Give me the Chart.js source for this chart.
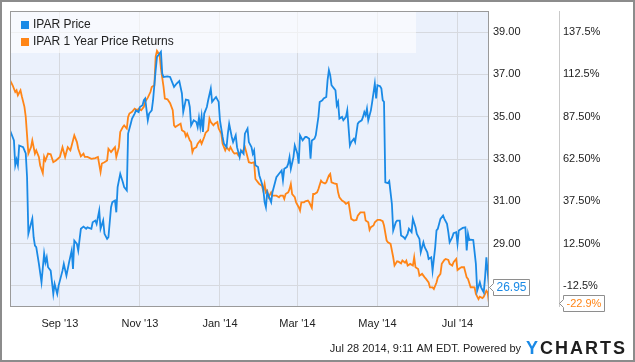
<!DOCTYPE html>
<html><head><meta charset="utf-8">
<script src="https://cdn.jsdelivr.net/npm/chart.js@4.4.1/dist/chart.umd.min.js"></script>
<style>html,body{margin:0;padding:0;background:#fff}canvas{display:block}</style>
</head><body>
<canvas id="c" width="635" height="362"></canvas>
<script>
// x values: days since 1 Sep 2013
const priceDays = [
 -38,-35,-34,-33,-32,-31,-28,-26,-25,-24,
 -22,-21,-20,-19,-18,-16,-14,-12,-11,-10,
 -9,-7,-5,-4,-2,-1,2,3,5,7,
 9,10,11,13,14,16,18,20,21,24,
 25,27,28,30,31,33,34,36,37,39,
 40,42,43,44,46,48,49,51,52,54,
 55,57,58,60,61,63,64,65,67,68,
 70,71,73,74,76,77,78,79,82,84,
 87,89,91,93,94,96,98,99,100,102,
 104,105,106,107,108,109,110,112,113,115,
 116,118,119,121,122,124,125,127,128,129,
 131,132,134,135,137,138,140,141,143,144,
 146,147,148,149,151,152,154,155,156,157,
 158,159,161,162,164,165,167,169,170,171,
 173,174,175,176,178,179,181,182,183,185,
 187,188,190,191,192,194,195,197,198,200,
 201,203,204,205,206,207,209,210,211,212,
 213,215,216,218,219,221,222,224,225,227,
 228,230,231,232,233,234,235,237,238,240,
 241,242,244,245,246,247,248,250,251,253,
 254,256,257,259,260,262,263,265,266,268,
 269,271,272,274,275,277,278,280,281,283,
 284,286,287,288,290,292,293,295,296,297,
 299,300,302,303,304,306,307,309,310,311,
 312,313,315,317,318,320,321,323,324,325,327
];
const priceValues = [
 34.36,33.88,32.70,32.97,32.70,33.64,33.56,33.26,32.14,29.47,
 29.95,30.18,29.30,28.90,28.83,28.05,27.17,28.53,28.11,28.35,
 27.88,27.72,26.62,27.09,26.62,27.00,27.72,28.04,27.48,28.11,
 28.67,27.80,29.14,28.98,28.67,29.70,29.80,29.70,29.77,29.70,
 30.01,30.09,29.93,30.56,29.70,30.09,29.46,29.22,29.30,30.72,
 30.96,31.04,30.48,31.67,32.30,31.90,31.67,31.51,34.20,34.67,
 34.91,35.15,35.30,35.22,35.46,35.54,35.78,35.86,34.83,35.15,
 35.30,35.78,37.20,37.83,37.99,38.07,37.04,36.88,36.91,36.88,
 36.41,36.57,36.69,36.10,35.22,35.81,35.78,35.46,34.59,34.83,
 34.75,34.51,34.96,34.51,35.02,34.28,35.15,35.46,35.78,36.33,
 35.70,35.86,35.93,35.70,34.83,34.04,33.73,33.56,34.20,34.67,
 34.04,33.80,34.12,33.56,33.09,33.41,33.25,34.20,34.44,33.80,
 33.56,33.25,33.41,32.70,32.62,32.22,31.83,31.59,30.96,30.72,
 31.43,31.27,30.96,31.43,31.90,32.14,32.30,32.46,31.99,32.54,
 32.62,32.78,33.09,32.54,33.09,33.64,33.25,32.78,34.12,33.88,
 34.04,34.04,33.96,33.01,33.88,33.96,34.12,34.99,35.70,35.78,
 35.86,35.93,36.73,37.20,36.96,36.49,36.33,36.25,35.54,35.70,
 34.91,34.99,34.83,34.99,35.30,33.64,33.80,33.96,33.80,34.67,
 34.75,34.83,34.99,35.22,35.07,35.38,34.83,35.30,35.70,36.57,
 35.86,36.49,36.44,36.33,35.78,35.70,31.90,31.86,31.95,30.88,
 29.62,30.01,30.09,30.09,29.38,29.30,29.22,29.46,29.70,29.54,
 30.17,29.77,29.46,29.22,28.59,29.06,28.83,28.59,28.27,28.35,
 27.72,28.83,29.62,29.70,30.17,30.33,30.17,29.93,29.54,29.06,
 29.30,29.49,29.54,28.99,29.62,29.70,29.74,29.77,28.67,29.46,
 29.17,29.19,29.17,28.04,26.77,27.17,26.93,26.69,27.40,28.35,26.95
];
const returnDays = [
 -38,-36,-34,-33,-32,-30,-29,-27,-26,-24,
 -22,-21,-19,-18,-16,-15,-13,-12,-11,-9,
 -7,-5,-3,0,2,4,6,8,9,11,
 13,14,16,18,19,21,24,27,29,31,
 32,34,36,37,39,40,42,43,45,46,
 48,49,51,52,53,55,57,59,60,62,
 64,65,67,69,70,72,73,74,76,77,
 79,80,82,84,86,87,88,90,92,93,
 95,96,97,99,100,101,102,104,105,107,
 108,110,111,113,114,115,117,118,120,121,
 123,124,126,127,129,130,132,133,135,136,
 138,139,141,142,144,146,148,149,151,152,
 154,155,156,157,158,159,161,162,164,165,
 167,168,170,171,172,174,175,176,177,179,
 180,182,183,184,186,187,189,190,192,193,
 194,196,197,199,200,202,203,205,206,207,
 209,211,212,213,215,217,218,220,221,222,
 224,226,227,229,230,232,233,235,236,237,
 239,240,242,244,246,247,249,250,252,254,
 255,257,258,260,261,263,264,265,267,269,
 270,271,273,274,276,278,279,281,282,284,
 285,287,288,290,291,293,294,296,297,299,
 300,302,303,305,306,308,310,311,313,314,
 316,317,319,320,322,323,325,326,327
];
const returnValues = [
 109.1,106.1,102.1,103.1,100.2,103.1,99.6,93.3,87.4,65.7,
 69.5,73.5,65.7,67.6,63.7,58.7,54.2,63.7,61.6,65.7,
 65.3,60.6,61.6,63.7,69.5,63.7,69.5,67.6,70.5,76.5,
 72.5,68.6,64.1,65.7,63.7,63.7,62.6,63.0,63.7,54.8,
 59.8,60.6,61.6,68.6,66.6,67.6,69.5,63.7,69.5,78.5,
 81.4,82.4,80.5,87.4,89.4,90.4,92.3,91.3,92.3,91.3,
 93.3,96.3,98.8,102.1,105.1,106.1,123.0,126.4,123.9,116.0,
 105.1,98.2,97.8,95.5,91.3,82.4,81.4,82.4,83.4,79.5,
 78.5,75.9,77.5,73.5,72.5,66.6,68.6,69.5,71.5,73.5,
 71.5,75.5,77.9,79.5,86.4,84.4,82.4,83.4,84.4,80.5,
 77.5,71.5,67.6,69.5,67.6,69.5,66.6,65.7,66.0,64.6,
 66.6,66.6,69.5,66.6,60.6,60.1,60.6,50.7,48.7,47.7,
 46.7,43.7,47.7,42.8,43.7,39.9,42.8,40.8,40.8,40.8,
 39.9,40.8,40.8,38.9,41.8,42.8,44.7,47.7,41.8,39.9,
 36.9,34.0,32.0,36.9,36.9,37.5,37.9,36.9,33.6,41.8,
 41.8,42.8,44.7,49.7,48.7,48.1,48.7,52.8,53.7,48.7,
 48.1,47.7,42.8,39.9,37.9,36.9,36.0,36.9,32.0,27.1,
 26.1,26.5,29.0,30.9,30.9,30.9,26.1,25.1,20.6,22.2,
 23.2,25.1,26.5,26.5,25.7,23.2,14.3,13.3,12.3,4.4,
 -0.5,2.0,1.8,0.8,2.5,1.2,2.4,-0.5,0.5,-0.5,
 4.4,-1.5,-2.5,-6.5,-5.4,-7.5,-8.4,-10.5,-13.4,-13.4,
 -14.4,-10.5,-7.5,-5.4,0.5,2.8,3.4,2.8,0.5,-0.5,
 1.5,3.4,-3.1,-1.9,-1.5,-1.5,-7.5,-8.4,-13.4,-13.3,
 -13.4,-17.3,-20.3,-18.9,-19.7,-18.9,-15.4,-16.4,-22.9
];
const monthTickDays = [0, 61, 122, 181, 242, 303];
const monthTickLabels = ["Sep '13", "Nov '13", "Jan '14", "Mar '14", "May '14", "Jul '14"];
const priceTicks = [27, 29, 31, 33, 35, 37, 39];
const priceTickLabels = ['27.00', '29.00', '31.00', '33.00', '35.00', '37.00', '39.00'];
const returnTicks = [-12.5, 12.5, 37.5, 62.5, 87.5, 112.5, 137.5];
const returnTickLabels = ['-12.5%', '12.50%', '37.50%', '62.50%', '87.50%', '112.5%', '137.5%'];
const seriesNames = ['IPAR Price', 'IPAR 1 Year Price Returns'];
const footerText = 'Jul 28 2014, 9:11 AM EDT. Powered by';

const BLUE = '#1a8ae6', ORANGE = '#ff8517';
const GRID = '#d6d9df', PLOT_BG = '#ebf1fc';
const FONT = '"Liberation Sans", Arial, Helvetica, sans-serif';
Chart.defaults.font.family = FONT;

function drawFlag(ctx, tipX, y, text, color, size) {
  ctx.font = size + 'px ' + FONT;
  const w = Math.round(ctx.measureText(text).width) + 6, h = 16, bx = tipX + 4.5;
  const t = Math.round(y - h / 2) + 0.5, b = t + h;
  ctx.beginPath();
  ctx.moveTo(tipX + 0.5, Math.round(y) + 0.5);
  ctx.lineTo(bx, Math.round(y) - 3.5);
  ctx.lineTo(bx, t); ctx.lineTo(bx + w, t); ctx.lineTo(bx + w, b); ctx.lineTo(bx, b);
  ctx.lineTo(bx, Math.round(y) + 4.5);
  ctx.closePath();
  ctx.fillStyle = '#fff'; ctx.fill();
  ctx.strokeStyle = '#8e8e8e'; ctx.lineWidth = 1; ctx.stroke();
  ctx.fillStyle = color; ctx.textAlign = 'left'; ctx.textBaseline = 'middle';
  ctx.fillText(text, bx + 3, (t + b) / 2 + 0.5);
}

const decor = {
  id: 'decor',
  beforeDraw(chart) {
    const {ctx, chartArea: a} = chart;
    ctx.save();
    ctx.fillStyle = '#fff'; ctx.fillRect(0, 0, chart.width, chart.height);
    ctx.fillStyle = PLOT_BG; ctx.fillRect(a.left, a.top, a.right - a.left, a.bottom - a.top);
    ctx.restore();
  },
  beforeDatasetsDraw(chart) {
    const {ctx, chartArea: a} = chart;
    ctx.save();
    ctx.fillStyle = 'rgba(255,255,255,0.6)';
    ctx.fillRect(a.left, a.top, 416 - a.left, 53 - a.top);
    ctx.restore();
  },
  afterDatasetsDraw(chart) {
    const {ctx} = chart;
    ctx.save();
    ctx.font = '12px ' + FONT; ctx.textBaseline = 'middle'; ctx.textAlign = 'left';
    [[BLUE, 24.5], [ORANGE, 41.5]].forEach(([c, y], i) => {
      ctx.fillStyle = c; ctx.fillRect(21, Math.round(y) - 4, 8, 8);
      ctx.fillStyle = '#222'; ctx.fillText(seriesNames[i], 33, y);
    });
    ctx.restore();
  },
  afterDraw(chart) {
    const {ctx, chartArea: a} = chart;
    ctx.save();
    ctx.strokeStyle = '#9a9a9a'; ctx.lineWidth = 1;
    ctx.strokeRect(Math.round(a.left) + 0.5, Math.round(a.top) + 0.5, Math.round(a.right - a.left) - 1, Math.round(a.bottom - a.top) - 1);
    const sx = Math.round(chart.scales.y2.left) + 0.5;
    ctx.strokeStyle = '#c9c9c9';
    ctx.beginPath(); ctx.moveTo(sx, a.top); ctx.lineTo(sx, a.bottom); ctx.stroke();
    const lp = priceValues[priceValues.length - 1];
    const lr = returnValues[returnValues.length - 1];
    drawFlag(ctx, Math.round(a.right), chart.scales.y.getPixelForValue(lp), lp.toFixed(2), BLUE, 12);
    drawFlag(ctx, Math.round(chart.scales.y2.left), chart.scales.y2.getPixelForValue(lr), lr.toFixed(1) + '%', ORANGE, 11);
    ctx.font = '11px ' + FONT; ctx.fillStyle = '#222'; ctx.textAlign = 'right'; ctx.textBaseline = 'middle';
    ctx.fillText(footerText, 521, 349);
    ctx.textAlign = 'left';
    ctx.font = 'bold 18px ' + FONT;
    ctx.letterSpacing = '2px';
    ctx.fillStyle = BLUE; ctx.fillText('Y', 526, 349);
    const yw = ctx.measureText('Y').width;
    ctx.fillStyle = '#1e1e1e'; ctx.fillText('CHARTS', 526 + yw, 349);
    ctx.letterSpacing = '0px';
    ctx.strokeStyle = '#8c8c8c'; ctx.lineWidth = 2;
    ctx.strokeRect(1, 1, chart.width - 2, chart.height - 2);
    ctx.restore();
  }
};

new Chart(document.getElementById('c'), {
  type: 'line',
  data: {
    datasets: [
      { label: seriesNames[0], data: priceDays.map((d, i) => ({x: d, y: priceValues[i]})), yAxisID: 'y',
        borderColor: BLUE, borderWidth: 1.8, pointRadius: 0, tension: 0, fill: false },
      { label: seriesNames[1], data: returnDays.map((d, i) => ({x: d, y: returnValues[i]})), yAxisID: 'y2',
        borderColor: ORANGE, borderWidth: 1.8, pointRadius: 0, tension: 0, fill: false }
    ]
  },
  options: {
    responsive: false, animation: false, devicePixelRatio: 1,
    layout: { padding: { left: 10, top: 11, right: 0, bottom: 0 } },
    plugins: { legend: { display: false }, tooltip: { enabled: false } },
    scales: {
      x: {
        type: 'linear', min: -38, max: 327,
        afterBuildTicks: s => { s.ticks = monthTickDays.map(v => ({value: v})); },
        afterFit: s => { s.height = 55; },
        grid: { color: GRID, drawTicks: false }, border: { display: false },
        ticks: { autoSkip: false, maxRotation: 0, padding: 10, color: '#222', font: { size: 11 },
          callback: v => monthTickLabels[monthTickDays.indexOf(v)] }
      },
      y: {
        position: 'right', weight: 0, min: 26, max: 40,
        afterBuildTicks: s => { s.ticks = priceTicks.map(v => ({value: v})); },
        afterFit: s => { s.width = 70; },
        grid: { color: GRID, drawTicks: false }, border: { display: false },
        ticks: { padding: 4, color: '#222', font: { size: 11 },
          callback: v => priceTickLabels[priceTicks.indexOf(v)] }
      },
      y2: {
        position: 'right', weight: 1, min: -25, max: 150,
        afterBuildTicks: s => { s.ticks = returnTicks.map(v => ({value: v})); },
        afterFit: s => { s.width = 76; },
        grid: { display: false, drawTicks: false }, border: { display: false },
        ticks: { padding: 4, color: '#222', font: { size: 11 },
          callback: v => returnTickLabels[returnTicks.indexOf(v)] }
      }
    }
  },
  plugins: [decor]
});
</script>
</body></html>
